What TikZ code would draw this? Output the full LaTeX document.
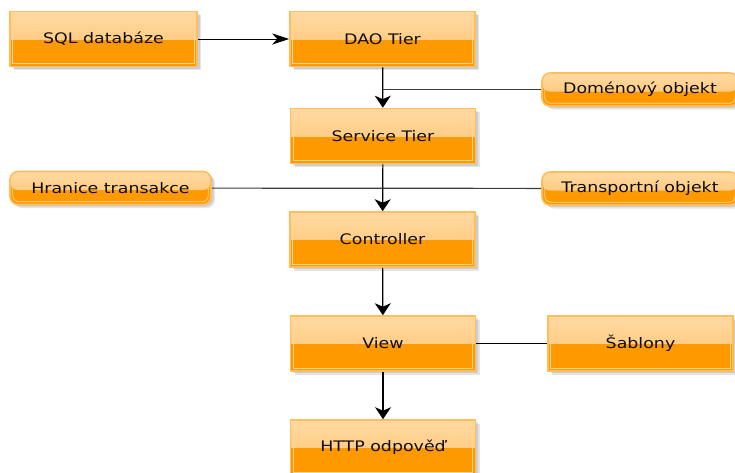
\documentclass[tikz,border=0pt]{standalone}
\usepackage{fontspec}
\setmainfont{DejaVu Sans}[FakeStretch=1.2]
\usetikzlibrary{arrows.meta,shadows}
\definecolor{orangedark}{HTML}{FF9900}
\definecolor{toplight}{HTML}{FFDAA4}
\definecolor{topmid}{HTML}{FFC068}
\definecolor{boxborder}{HTML}{FFBE5C}
\definecolor{innerline}{HTML}{FFD595}
\definecolor{lbl}{HTML}{0D0D0D}
\definecolor{grayline}{HTML}{3C3C3C}
\tikzset{
  box/.style={draw=boxborder, line width=1.6pt, fill=orangedark, inner sep=0pt,
    font=\fontsize{14.5}{16}\selectfont, text=lbl,
    drop shadow={shadow xshift=4pt,shadow yshift=-3.5pt,fill=black,opacity=0.10},
    drop shadow={shadow xshift=2.5pt,shadow yshift=-2pt,fill=black,opacity=0.10}},
  tierbox/.style={box, minimum width=185pt, minimum height=55pt,
    path picture={
      \shade[top color=toplight,bottom color=topmid]
        (path picture bounding box.north west) rectangle (path picture bounding box.east);
      \draw[innerline, line width=0.8pt]
        ([shift={(2.8pt,-2.8pt)}]path picture bounding box.north west) rectangle
        ([shift={(-2.8pt,2.8pt)}]path picture bounding box.south east);
    }},
  pillbox/.style={box, rounded corners=8pt, minimum height=33pt,
    path picture={
      \shade[top color=toplight,bottom color=topmid]
        (path picture bounding box.north west) rectangle ([yshift=-2pt]path picture bounding box.east);
      \draw[innerline, line width=0.8pt, rounded corners=6pt]
        ([shift={(2.8pt,-2.8pt)}]path picture bounding box.north west) rectangle
        ([shift={(-2.8pt,2.8pt)}]path picture bounding box.south east);
    }},
  harrow/.style={black, line width=0.9pt, -{Stealth[length=17pt,width=11pt,inset=5pt]}},
  varrow/.style={black, line width=1.2pt, -{Stealth[length=12pt,width=16pt,inset=3.5pt]}},
  plainline/.style={black, line width=0.9pt},
  grayconn/.style={grayline, line width=1.2pt}
}
\begin{document}
\begin{tikzpicture}[x=1pt,y=-1pt]
\useasboundingbox (0,0) rectangle (735,472);
\fill[white] (0,0) rectangle (735,472);
% tiers
\node[tierbox, minimum width=187pt] (sql) at (103.5,39) {SQL databáze};
\node[tierbox] (dao) at (382.5,39) {DAO Tier};
\node[tierbox] (svc) at (383,136) {Service Tier};
\node[tierbox] (ctrl) at (382.5,239.5) {Controller};
\node[tierbox] (view) at (383,343.5) {View};
\node[tierbox] (http) at (383,447.5) {HTTP odpověď};
\node[tierbox] (sab) at (640.5,343.5) {Šablony};
% pills
\node[pillbox, minimum width=196pt] (dom) at (640,89.5) {Doménový objekt};
\node[pillbox, minimum width=201pt] (hr) at (110.5,188) {Hranice transakce};
\node[pillbox, minimum width=196pt] (tr) at (640,188.5) {Transportní objekt};
% connectors
\draw[harrow] (sql) -- (dao);
\draw[grayconn] (dom) -- (dom -| dao);
\draw[varrow] (dao) -- (svc);
\draw[grayconn] (hr) -- (tr);
\draw[varrow] (svc) -- (ctrl);
\draw[varrow] (ctrl) -- (view);
\draw[plainline] (view) -- (sab);
\draw[varrow] (view) -- (http);
\end{tikzpicture}
\end{document}
